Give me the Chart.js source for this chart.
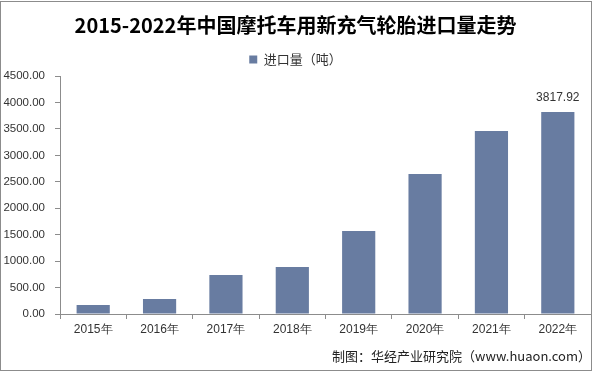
<!DOCTYPE html>
<html>
<head>
<meta charset="utf-8">
<script src="https://cdn.jsdelivr.net/npm/chart.js@4/dist/chart.umd.min.js"></script>
<style>
  html, body { margin: 0; padding: 0; background: #fff; }
  #wrap { position: relative; width: 596px; height: 374px; }
  #frame { position: absolute; left: 0; top: 1px; width: 590px; height: 368px; border: 1px solid #8c8c8c; }
  #chart { position: absolute; left: 0; top: 0; }
</style>
</head>
<body>
<div id="wrap">
  <div id="frame"></div>
  <canvas id="chart" width="596" height="374"></canvas>
</div>
<script>
// 数据
const years = ['2015年', '2016年', '2017年', '2018年', '2019年', '2020年', '2021年', '2022年'];
const importVolume = [170, 284, 737, 888, 1569, 2646, 3459, 3817.92];
const yTicks = [0, 500, 1000, 1500, 2000, 2500, 3000, 3500, 4000, 4500];

const axisColor = '#8c8c8c';
const textColor = '#333';

// 只给最后一根柱子标数值
const lastLabel = {
  id: 'lastLabel',
  afterDatasetsDraw(chart) {
    const meta = chart.getDatasetMeta(0);
    const i = importVolume.length - 1;
    const bar = meta.data[i];
    const ctx = chart.ctx;
    ctx.save();
    ctx.font = '12px "Liberation Sans", Arial, sans-serif';
    ctx.fillStyle = textColor;
    ctx.textAlign = 'center';
    ctx.textBaseline = 'bottom';
    ctx.fillText(importVolume[i].toFixed(2), bar.x, bar.y - 8);
    ctx.restore();
  }
};

new Chart(document.getElementById('chart'), {
  type: 'bar',
  data: {
    labels: years,
    datasets: [{
      label: '进口量（吨）',
      data: importVolume,
      backgroundColor: '#687ca1',
      categoryPercentage: 1,
      barPercentage: 0.5,
    }],
  },
  options: {
    responsive: false,
    animation: false,
    layout: { padding: { left: 0, right: 5, top: 0, bottom: 4 } },
    plugins: {
      title: {
        display: true,
        text: '2015-2022年中国摩托车用新充气轮胎进口量走势',
        color: '#000',
        font: { family: '"Noto Sans CJK SC", sans-serif', size: 20, weight: 'bold' },
        padding: { top: 13, bottom: 5 },
      },
      legend: {
        display: true,
        labels: {
          color: textColor,
          boxWidth: 8,
          boxHeight: 8,
          padding: 11,
          font: { family: '"Noto Sans CJK SC", sans-serif', size: 13 },
        },
      },
      subtitle: {
        display: true,
        position: 'bottom',
        align: 'end',
        text: '制图：华经产业研究院（www.huaon.com）',
        color: '#222',
        font: { family: '"Noto Sans CJK SC", sans-serif', size: 13 },
        padding: { top: 9, bottom: 6 },
      },
      tooltip: { enabled: false },
    },
    scales: {
      x: {
        grid: { offset: true, drawOnChartArea: false, drawTicks: true, tickLength: 5, color: axisColor },
        border: { color: axisColor },
        ticks: { color: textColor, padding: 3, font: { family: '"Liberation Sans", Arial, sans-serif', size: 12 } },
      },
      y: {
        min: 0,
        max: 4500,
        afterBuildTicks(scale) { scale.ticks = yTicks.map(v => ({ value: v })); },
        grid: { drawOnChartArea: false, drawTicks: true, tickLength: 5, color: axisColor },
        border: { color: axisColor },
        ticks: {
          color: textColor,
          padding: 10,
          font: { family: '"Liberation Sans", Arial, sans-serif', size: 11.5 },
          callback: v => Number(v).toFixed(2),
        },
        afterFit(scale) { scale.width = 60; },
      },
    },
  },
  plugins: [lastLabel],
});
</script>
</body>
</html>
